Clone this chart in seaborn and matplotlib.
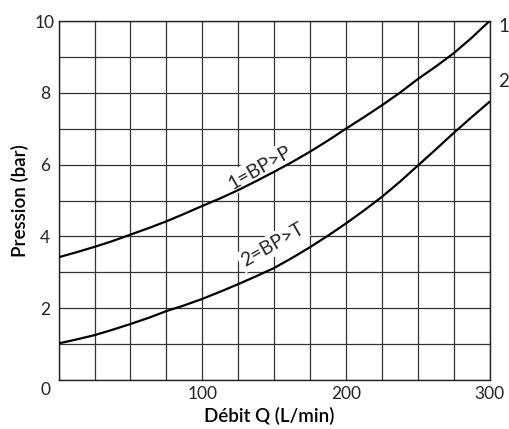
import numpy as np
import pandas as pd
import matplotlib
matplotlib.use("Agg")
import matplotlib.pyplot as plt
import seaborn as sns

# flow (L/min) and pressure (bar)
debit = [0, 12.5, 25, 37.5, 50, 62.5, 75, 87.5, 100, 112.5, 125, 137.5, 150,
         162.5, 175, 187.5, 200, 212.5, 225, 237.5, 250, 262.5, 275, 287.5, 300]
p_bp_p = [3.42, 3.56, 3.71, 3.87, 4.05, 4.23, 4.42, 4.63, 4.85, 5.06, 5.29, 5.54, 5.80,
          6.07, 6.36, 6.67, 7.00, 7.32, 7.65, 8.00, 8.38, 8.73, 9.10, 9.53, 10.0]
p_bp_t = [1.02, 1.13, 1.25, 1.40, 1.56, 1.73, 1.92, 2.08, 2.26, 2.46, 2.67, 2.89, 3.12,
          3.40, 3.70, 4.02, 4.36, 4.72, 5.10, 5.52, 5.97, 6.42, 6.88, 7.32, 7.75]

x_ticks = list(range(0, 301, 25))
y_ticks = list(range(0, 11))
x_labels = {100: "100", 200: "200", 300: "300"}
y_labels = {2: "2", 4: "4", 6: "6", 8: "8", 10: "10"}

df = pd.DataFrame({
    "debit": debit * 2,
    "pression": p_bp_p + p_bp_t,
    "courbe": ["1"] * len(debit) + ["2"] * len(debit),
})

sns.set_theme(style="white")
plt.rcParams["font.family"] = ["Lato", "DejaVu Sans"]

fig = plt.figure(figsize=(5.09, 4.29), dpi=100)
ax = fig.add_axes([0.1153, 0.1142, 0.8464, 0.8368])

sns.lineplot(data=df, x="debit", y="pression", hue="courbe",
             palette=["black", "black"], linewidth=1.6, legend=False,
             ax=ax, zorder=4)

ax.set_xlim(0, 300)
ax.set_ylim(0, 10)
ax.set_xticks(x_ticks)
ax.set_yticks(y_ticks)
ax.set_xticklabels([x_labels.get(t, "") for t in x_ticks], fontsize=12.5,
                   fontweight="normal", color="#222222")
ax.set_yticklabels([y_labels.get(t, "") for t in y_ticks], fontsize=12.5,
                   fontweight="normal", color="#222222")
for lab in ax.get_yticklabels():
    lab.set_horizontalalignment("center")
ax.tick_params(axis="both", length=0)
ax.tick_params(axis="x", pad=4)
ax.tick_params(axis="y", pad=10)
ax.grid(True, color="#333333", linewidth=0.9)
for s in ax.spines.values():
    s.set_color("#222222")
    s.set_linewidth(1.0)

ax.text(-0.03, -0.028, "0", transform=ax.transAxes, ha="center", va="center",
        fontsize=12.5, fontweight="normal", color="#222222")

ax.set_xlabel("Débit Q (L/min)", fontsize=13.5, fontweight="semibold", color="black")
ax.set_ylabel("Pression (bar)", fontsize=13.5, fontweight="semibold", color="black")
ax.xaxis.set_label_coords(0.488, -0.074)
ax.yaxis.set_label_coords(-0.069, 0.5)

box = dict(facecolor="white", edgecolor="none", pad=2)
ax.text(140, 5.92, "1=BP>P", rotation=30, rotation_mode="anchor",
        ha="center", va="center", fontsize=14, bbox=box, zorder=3)
ax.text(149, 3.76, "2=BP>T", rotation=30, rotation_mode="anchor",
        ha="center", va="center", fontsize=14, bbox=box, zorder=3)

ax.text(310, 9.86, "1", ha="center", va="center", fontsize=13.5, clip_on=False)
ax.text(310, 8.31, "2", ha="center", va="center", fontsize=13.5, clip_on=False)

fig.savefig("out.png", dpi=100)
